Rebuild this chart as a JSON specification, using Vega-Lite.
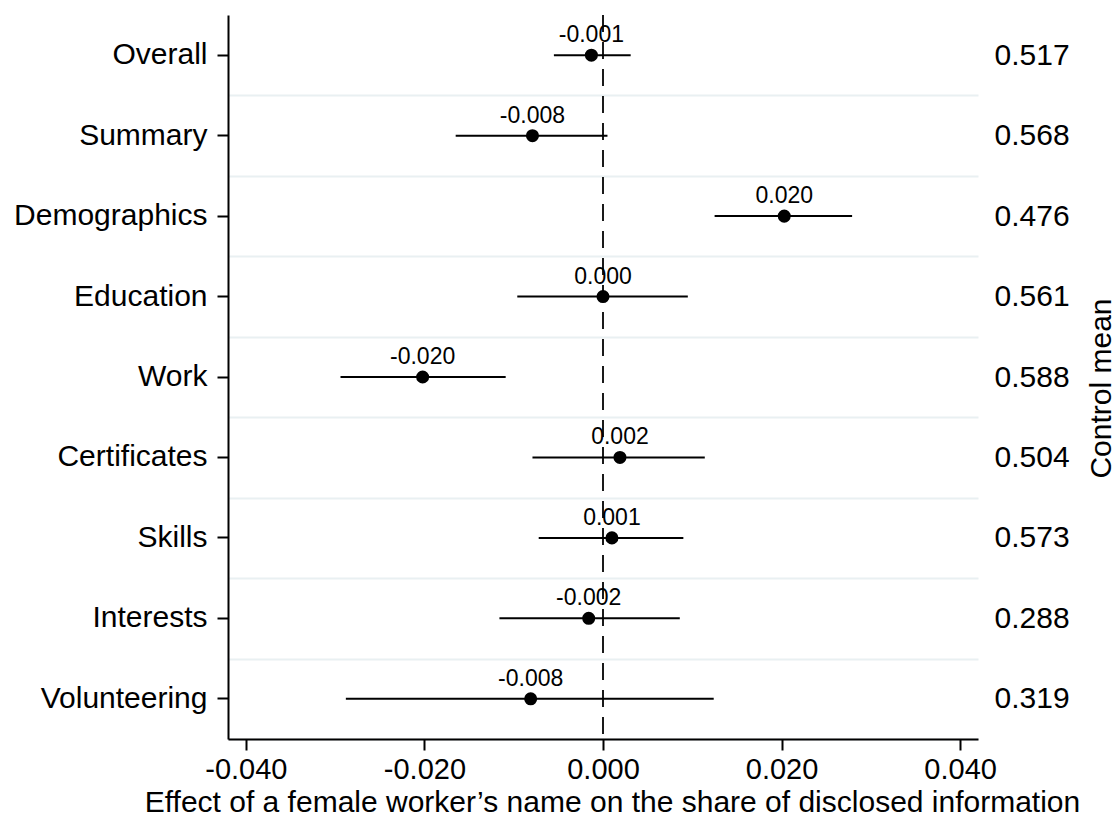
{
  "$schema": "https://vega.github.io/schema/vega-lite/v6.json",
  "width": 750,
  "height": 724,
  "autosize": {"type": "none"},
  "padding": {"left": 228, "top": 15, "right": 137, "bottom": 80},
  "background": "white",
  "config": {
    "font": "Liberation Sans",
    "view": {"stroke": null},
    "axisX": {
      "grid": false, "domainColor": "black", "domainWidth": 2, "tickColor": "black", "tickWidth": 2, "tickSize": 11,
      "labelFontSize": 29, "labelColor": "black", "labelPadding": 5, "labelFlush": false,
      "titleFontSize": 30, "titleFontWeight": "normal", "titleColor": "black", "titlePadding": 3, "titleX": 384
    }
  },
  "data": {
    "values": [
      {"cat": "Overall", "cm": "0.517", "est": -0.0013, "lo": -0.0055, "hi": 0.0031, "label": "-0.001"},
      {"cat": "Summary", "cm": "0.568", "est": -0.0079, "lo": -0.0165, "hi": 0.0005, "label": "-0.008"},
      {"cat": "Demographics", "cm": "0.476", "est": 0.0203, "lo": 0.0125, "hi": 0.0279, "label": "0.020"},
      {"cat": "Education", "cm": "0.561", "est": 0.0000, "lo": -0.0096, "hi": 0.0095, "label": "0.000"},
      {"cat": "Work", "cm": "0.588", "est": -0.0202, "lo": -0.0294, "hi": -0.0109, "label": "-0.020"},
      {"cat": "Certificates", "cm": "0.504", "est": 0.0019, "lo": -0.0079, "hi": 0.0114, "label": "0.002"},
      {"cat": "Skills", "cm": "0.573", "est": 0.0010, "lo": -0.0072, "hi": 0.0090, "label": "0.001"},
      {"cat": "Interests", "cm": "0.288", "est": -0.0016, "lo": -0.0116, "hi": 0.0086, "label": "-0.002"},
      {"cat": "Volunteering", "cm": "0.319", "est": -0.0081, "lo": -0.0288, "hi": 0.0124, "label": "-0.008"}
    ]
  },
  "resolve": {"scale": {"y": "independent"}, "axis": {"y": "independent"}},
  "layer": [
    {
      "data": {"values": [{"zero": 0}]},
      "mark": {"type": "rule", "strokeDash": [17, 10], "strokeWidth": 2, "color": "#1a1a1a"},
      "encoding": {
        "x": {
          "field": "zero", "type": "quantitative",
          "scale": {"domain": [-0.042, 0.042], "nice": false, "zero": false},
          "title": "Effect of a female worker\u2019s name on the share of disclosed information",
          "axis": {"values": [-0.04, -0.02, 0, 0.02, 0.04], "format": ".3f", "labelExpr": "replace(datum.label, '\u2212', '-')"}
        }
      }
    },
    {
      "mark": {"type": "rule", "strokeWidth": 2, "color": "black"},
      "encoding": {
        "y": {
          "field": "cm", "type": "nominal",
          "sort": ["0.517", "0.568", "0.476", "0.561", "0.588", "0.504", "0.573", "0.288", "0.319"],
          "scale": {"type": "band", "paddingInner": 0, "paddingOuter": 0},
          "axis": {
            "orient": "right", "title": "Control mean", "domain": false, "ticks": false, "tickSize": 0,
            "tickBand": "extent", "grid": true, "gridColor": "#e9f0f2", "gridWidth": 2,
            "gridOpacity": {"condition": {"test": "datum.extra", "value": 0}, "value": 1},
            "labelFontSize": 30, "labelColor": "black", "labelPadding": 16, "labelAlign": "left", "labelBaseline": "middle",
            "titleFontSize": 30, "titleFontWeight": "normal", "titleColor": "black", "titleAngle": 270,
            "titleX": 123, "titleY": 373, "titleAlign": "center", "titleBaseline": "middle"
          }
        },
        "x": {
          "field": "lo", "type": "quantitative",
          "scale": {"domain": [-0.042, 0.042], "nice": false, "zero": false},
          "title": "Effect of a female worker\u2019s name on the share of disclosed information",
          "axis": {"values": [-0.04, -0.02, 0, 0.02, 0.04], "format": ".3f", "labelExpr": "replace(datum.label, '\u2212', '-')"}
        },
        "x2": {"field": "hi"}
      }
    },
    {
      "encoding": {
        "y": {
          "field": "cat", "type": "nominal",
          "sort": ["Overall", "Summary", "Demographics", "Education", "Work", "Certificates", "Skills", "Interests", "Volunteering"],
          "scale": {"type": "band", "paddingInner": 0, "paddingOuter": 0},
          "axis": {
            "orient": "left", "title": null, "grid": false,
            "domainColor": "black", "domainWidth": 2, "tickColor": "black", "tickWidth": 2, "tickSize": 11,
            "labelFontSize": 30, "labelColor": "black", "labelPadding": 10, "labelLimit": 0
          }
        },
        "x": {
          "field": "est", "type": "quantitative",
          "scale": {"domain": [-0.042, 0.042], "nice": false, "zero": false},
          "title": "Effect of a female worker\u2019s name on the share of disclosed information",
          "axis": {"values": [-0.04, -0.02, 0, 0.02, 0.04], "format": ".3f", "labelExpr": "replace(datum.label, '\u2212', '-')"}
        }
      },
      "layer": [
        {
          "mark": {"type": "point", "filled": true, "shape": "circle", "size": 170, "color": "black", "opacity": 1}
        },
        {
          "mark": {"type": "text", "fontSize": 23, "color": "black", "baseline": "alphabetic", "align": "center", "dy": -13},
          "encoding": {"text": {"field": "label"}}
        }
      ]
    }
  ]
}
